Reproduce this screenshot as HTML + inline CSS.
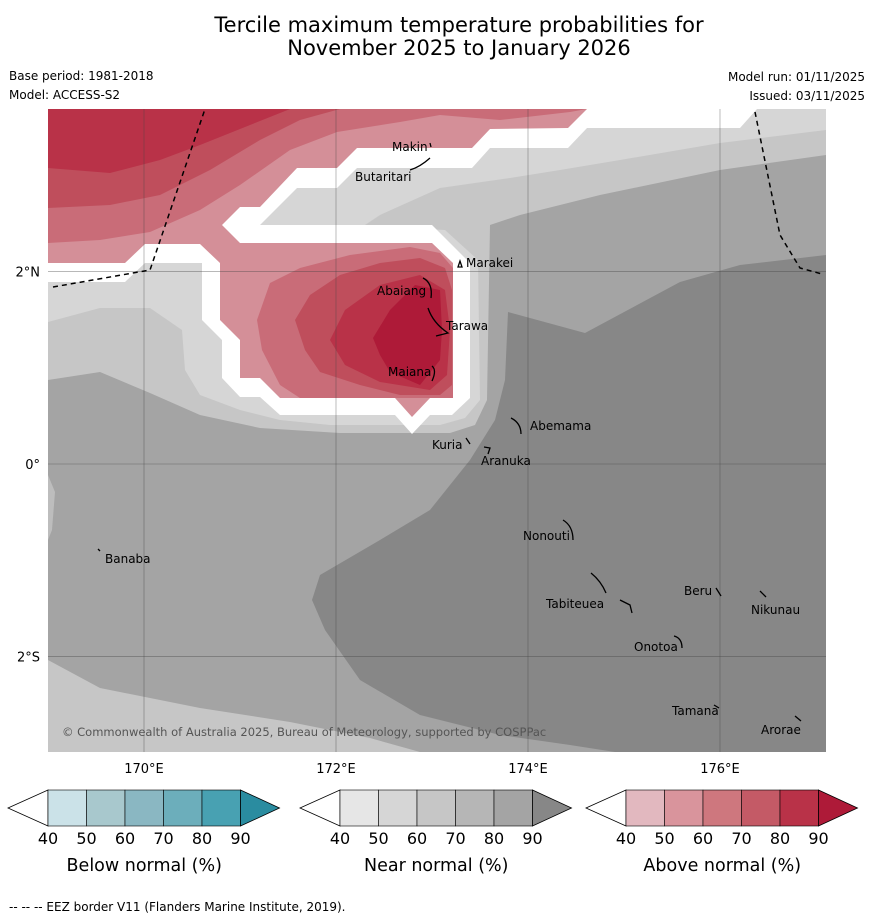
<!DOCTYPE html>
<html><head><meta charset="utf-8">
<style>
body{margin:0;background:#fff;width:873px;height:919px;overflow:hidden;font-family:"DejaVu Sans","Liberation Sans",sans-serif;}
svg text{font-family:"DejaVu Sans","Liberation Sans",sans-serif;}
</style></head>
<body>
<svg id="fig" width="873" height="919" viewBox="0 0 873 919" xmlns="http://www.w3.org/2000/svg">
<text x="459" y="32" font-size="21" text-anchor="middle">Tercile maximum temperature probabilities for</text>
<text x="459" y="55" font-size="21" text-anchor="middle">November 2025 to January 2026</text>
<text x="9" y="80" font-size="12">Base period: 1981-2018</text>
<text x="9" y="99" font-size="12">Model: ACCESS-S2</text>
<text x="865" y="81" font-size="12" text-anchor="end">Model run: 01/11/2025</text>
<text x="865" y="100" font-size="12" text-anchor="end">Issued: 03/11/2025</text>

<defs><clipPath id="mapclip"><rect x="48" y="109" width="778" height="643"/></clipPath></defs>
<g id="map" clip-path="url(#mapclip)">
<rect x="48" y="109" width="778" height="643" fill="#a4a4a4"/>
<polygon fill="#878787" points="508,312 585,333 680,282 740,265 826,255 826,752 615,752 570,745 500,735 420,715 360,680 325,630 312,600 320,575 380,540 430,510 470,460 495,420 505,380"/>
<polygon fill="#c6c6c6" points="48,660 100,688 200,708 290,722 370,738 420,752 48,752"/>
<polygon fill="#bdbdbd" points="48,475 55,492 52,530 48,540"/>
<polygon fill="#c6c6c6" points="48,109 826,109 826,155 720,170 600,195 520,215 490,225 487,400 475,425 450,433 340,433 260,428 200,415 150,393 100,372 48,380"/>
<polygon fill="#d6d6d6" points="48,109 826,109 826,130 720,143 620,160 560,170 510,178 440,188 380,215 365,225 445,230 478,260 480,400 465,418 440,425 330,425 280,420 240,410 200,395 185,370 182,330 150,308 100,308 48,322"/>
<polygon fill="#ffffff" points="48,109 757,109 740,128 587,128 568,148 490,148 472,168 357,168 337,188 297,188 260,225 432,225 470,263 470,398 452,415 430,415 412,434 395,415 280,415 260,397 240,397 222,378 222,340 202,320 202,263 145,263 125,282 48,282"/>
<polygon fill="#d48f98" points="48,109 587,109 568,128 490,129 472,148 357,148 337,168 297,168 260,207 240,207 222,225 240,243 432,243 453,263 453,398 430,398 412,417 395,398 280,398 260,378 240,378 240,340 220,320 220,263 200,244 145,244 125,263 48,263"/>
<polygon fill="#c96c78" points="48,109 587,109 570,112 500,120 440,115 400,122 337,132 290,150 240,185 200,210 150,232 100,240 48,243"/>
<polygon fill="#bf4e5c" points="48,109 340,109 300,120 260,140 210,170 160,195 110,205 48,208"/>
<polygon fill="#b93248" points="48,109 290,109 250,125 200,145 160,160 110,173 48,168"/>
<polygon fill="#c96c78" points="257,320 270,283 300,268 350,255 410,247 440,253 453,268 453,398 300,398 280,385 262,350"/>
<polygon fill="#bf4e5c" points="295,320 310,295 340,275 380,263 420,258 445,268 452,290 452,385 440,395 400,395 360,385 320,372 305,350"/>
<polygon fill="#b93248" points="330,340 345,310 380,285 420,275 445,290 450,330 447,375 430,390 380,382 345,365"/>
<polygon fill="#ae1a38" points="373,338 390,310 415,285 440,290 442,330 440,360 420,385 390,372 380,355"/>
<g id="grid" stroke="#444" stroke-width="0.6" stroke-opacity="0.6"></g>
<polyline points="53,287 150,270 205,109" fill="none" stroke="#000" stroke-width="1.5" stroke-dasharray="5,4"/>
<polyline points="755,112 780,235 800,268 822,274" fill="none" stroke="#000" stroke-width="1.5" stroke-dasharray="5,4"/>
<g fill="none" stroke="#000" stroke-width="1.3">
<path d="M430,143 l1,4"/><path d="M410,170 q10,-3 20,-12"/>
<path d="M458,267 l2,-6 l2,6z"/><path d="M423,278 q10,5 8,20"/>
<path d="M428,308 q5,15 20,25 l-12,3"/><path d="M432,366 q5,4 0,15"/>
<path d="M511,418 q10,5 10,16"/><path d="M466,438 l4,6"/><path d="M484,447 l6,1 -2,6"/>
<path d="M563,520 q10,6 10,20"/><path d="M591,573 q10,8 15,20 M620,600 l10,5 2,8"/>
<path d="M716,588 l5,8"/><path d="M760,591 l6,6"/><path d="M674,636 q8,2 8,12"/>
<path d="M714,705 l5,3"/><path d="M795,716 l6,5"/><path d="M98,549 l2,2"/>
</g>
<g font-size="12" fill="#000">
<text x="392" y="151">Makin</text>
<text x="355" y="181">Butaritari</text>
<text x="466" y="267">Marakei</text>
<text x="377" y="295">Abaiang</text>
<text x="446" y="330">Tarawa</text>
<text x="388" y="376">Maiana</text>
<text x="530" y="430">Abemama</text>
<text x="432" y="449">Kuria</text>
<text x="481" y="465">Aranuka</text>
<text x="523" y="540">Nonouti</text>
<text x="105" y="563">Banaba</text>
<text x="546" y="608">Tabiteuea</text>
<text x="684" y="595">Beru</text>
<text x="751" y="614">Nikunau</text>
<text x="634" y="651">Onotoa</text>
<text x="672" y="715">Tamana</text>
<text x="761" y="734">Arorae</text>
</g>
<text x="62" y="736" font-size="11.5" fill="#555">© Commonwealth of Australia 2025, Bureau of Meteorology, supported by COSPPac</text>
</g>
<g id="axislabels" font-size="13"></g>
<g id="colorbars"></g>
<text x="9" y="911" font-size="12">--  --  -- EEZ border V11 (Flanders Marine Institute, 2019).</text>
</svg>
<script>
const lonTicks=[170,172,174,176];
const latTicks=[2,0,-2];
const cbTicks=[40,50,60,70,80,90];
const cbTitles=["Below normal (%)","Near normal (%)","Above normal (%)"];
const cbColorsBelow=["#cbe2e8","#a8c8cd","#8ab7c2","#6caebb","#48a1b2","#2a8ca0"];
const cbColorsNear=["#e6e6e6","#d6d6d6","#c6c6c6","#b6b6b6","#a4a4a4","#878787"];
const cbColorsAbove=["#e2b8bf","#d9949c","#ce777e","#c45a66","#b93248","#ae1a38"];
const NS="http://www.w3.org/2000/svg";
const xLon=l=>144+(l-170)*96;
const yLat=v=>464-v*96.3;
function mk(tag,attrs,parent){const e=document.createElementNS(NS,tag);for(const k in attrs)e.setAttribute(k,attrs[k]);parent.appendChild(e);return e;}
const grid=document.getElementById('grid');
const ax=document.getElementById('axislabels');
lonTicks.forEach(l=>{
 const ln=mk('line',{x1:xLon(l),x2:xLon(l),y1:109,y2:752},grid);
 
 
 const t=mk('text',{x:xLon(l),y:773,'text-anchor':'middle'},ax);
 t.textContent=l+'°E';
 
 
});
latTicks.forEach(v=>{
 const ln=mk('line',{x1:48,x2:826,y1:yLat(v),y2:yLat(v)},grid);
 
 
 const t=mk('text',{x:40,y:yLat(v)+5,'text-anchor':'end'},ax);
 t.textContent=v===0?'0°':(Math.abs(v)+'°'+(v>0?'N':'S'));
 
 
});
const cbg=document.getElementById('colorbars');
const lefts=[8,300,586];
[cbColorsBelow,cbColorsNear,cbColorsAbove].forEach((cols,i)=>{
 const x0=lefts[i],xs=x0+40,w=38.5,y0=790,h=36,xe=xs+5*w;
 const g=mk('g',{},cbg);
 
 
 const lt=mk('polygon',{points:`${x0},${y0+h/2} ${xs},${y0} ${xs},${y0+h}`,fill:'#fff',stroke:'#000','stroke-width':0.8},g);
 
 
 for(let k=0;k<5;k++){
  const r=mk('rect',{x:xs+k*w,y:y0,width:w,height:h,fill:cols[k],stroke:'#000','stroke-width':0.6},g);
  
  
 }
 const rt=mk('polygon',{points:`${xe},${y0} ${xe+39},${y0+h/2} ${xe},${y0+h}`,fill:cols[5],stroke:'#000','stroke-width':0.8},g);
 
 
 cbTicks.forEach((tv,k)=>{
  const t=mk('text',{x:xs+k*w,y:844,'font-size':16,'text-anchor':'middle'},g);
  t.textContent=tv;
  
  
 });
 const tt=mk('text',{x:xs+2.5*w,y:871,'font-size':17.5,'text-anchor':'middle'},g);
 tt.textContent=cbTitles[i];
 
 
});
</script>
</body></html>
